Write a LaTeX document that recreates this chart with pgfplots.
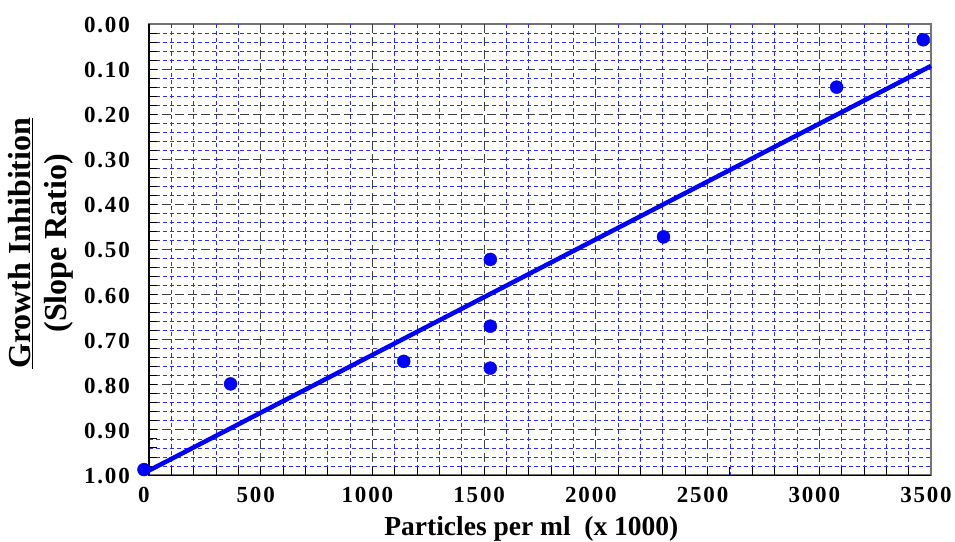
\documentclass[border=0pt]{standalone}
\usepackage{pgfplots}
\pgfplotsset{compat=1.18}
\usepackage{fontspec}
\setmainfont{Liberation Serif}
\newfontfamily\tickfont{Liberation Serif}[LetterSpace=8]
\definecolor{gridblue}{RGB}{45,45,255}
\begin{document}
\begin{tikzpicture}
\useasboundingbox (0,0) rectangle (955pt,541pt);
\begin{axis}[
  at={(149pt,66pt)}, anchor=south west,
  scale only axis, width=782pt, height=451pt,
  xmin=0, xmax=3500, ymin=0, ymax=1,
  y dir=reverse,
  clip=false,
  xtick={0,500,1000,1500,2000,2500,3000,3500},
  xticklabels={0,500,1000,1500,2000,2500,3000,3500},
  ytick={0,0.1,0.2,0.3,0.4,0.5,0.6,0.7,0.8,0.9,1.0},
  yticklabels={0.00,0.10,0.20,0.30,0.40,0.50,0.60,0.70,0.80,0.90,1.00},
  minor tick num=0,
  major tick length=0pt,
  tick style={draw=none},
  axis line style={black!55, line width=1.2pt},
  axis on top=false,
  /pgf/number format/assume math mode=true,
  xticklabel style={font=\fontsize{23}{27}\selectfont\tickfont\bfseries, inner sep=0pt, anchor=north, yshift=-12pt, xshift=-5pt},
  yticklabel style={font=\fontsize{23}{27}\selectfont\tickfont\bfseries, inner sep=0pt, anchor=east, xshift=-19pt, yshift=-1pt},
  xlabel={Particles per ml\ \ (x 1000)},
  xlabel style={font=\fontsize{27.5}{32}\selectfont\bfseries, at={(axis description cs:0.489,0)}, anchor=base, yshift=-60pt},
  ylabel={\underline{Growth Inhibition}\\(Slope Ratio)},
  ylabel style={font=\fontsize{32}{36}\selectfont\bfseries, align=center, at={(axis description cs:-0.138,0.514)}, anchor=center, rotate=0},
]
% minor grid (every 100 in x, every 0.02 in y)
\pgfplotsinvokeforeach{100,200,300,400,600,700,800,900,1100,1200,1300,1400,1600,1700,1800,1900,2100,2200,2300,2400,2600,2700,2800,2900,3100,3200,3300,3400}{
  \draw[gridblue, dash pattern=on 4pt off 3pt, line width=0.8pt] (axis cs:#1,0) -- (axis cs:#1,1);
  \draw[black, line width=0.9pt] (axis cs:#1,1) -- ++(0pt,8pt);
}
\pgfplotsinvokeforeach{0.02,0.04,0.06,0.08,0.12,0.14,0.16,0.18,0.22,0.24,0.26,0.28,0.32,0.34,0.36,0.38,0.42,0.44,0.46,0.48,0.52,0.54,0.56,0.58,0.62,0.64,0.66,0.68,0.72,0.74,0.76,0.78,0.82,0.84,0.86,0.88,0.92,0.94,0.96,0.98}{
  \draw[gridblue, dash pattern=on 4pt off 3pt, line width=0.8pt] (axis cs:0,#1) -- (axis cs:3500,#1);
  \draw[black, line width=0.9pt] (axis cs:0,#1) -- ++(8pt,0pt);
}
% major grid
\pgfplotsinvokeforeach{500,1000,1500,2000,2500,3000}{
  \draw[black!75, dash pattern=on 9pt off 4pt, line width=1pt] (axis cs:#1,0) -- (axis cs:#1,1);
  \draw[black, line width=0.9pt] (axis cs:#1,1) -- ++(0pt,8pt);
}
\pgfplotsinvokeforeach{0.1,0.2,0.3,0.4,0.5,0.6,0.7,0.8,0.9}{
  \draw[black!75, dash pattern=on 9pt off 4pt, line width=1pt] (axis cs:0,#1) -- (axis cs:3500,#1);
  \draw[black, line width=0.9pt] (axis cs:0,#1) -- ++(8pt,0pt);
}
\addplot[blue, line width=4.5pt, no marks] coordinates {(0,0.99) (3500,0.093)};
\addplot[only marks, mark=*, mark size=6.5pt, blue, mark options={fill=blue, draw=blue}, xshift=-5pt] coordinates {
  (0,0.988) (387.5,0.798) (1162.5,0.748) (1550,0.522) (1550,0.670) (1550,0.763) (2325,0.472) (3100,0.140) (3487.5,0.035)
};
\draw[black, line width=1pt] (axis cs:0,0) -- (axis cs:0,1) -- (axis cs:3500,1);
\end{axis}
\end{tikzpicture}
\end{document}
